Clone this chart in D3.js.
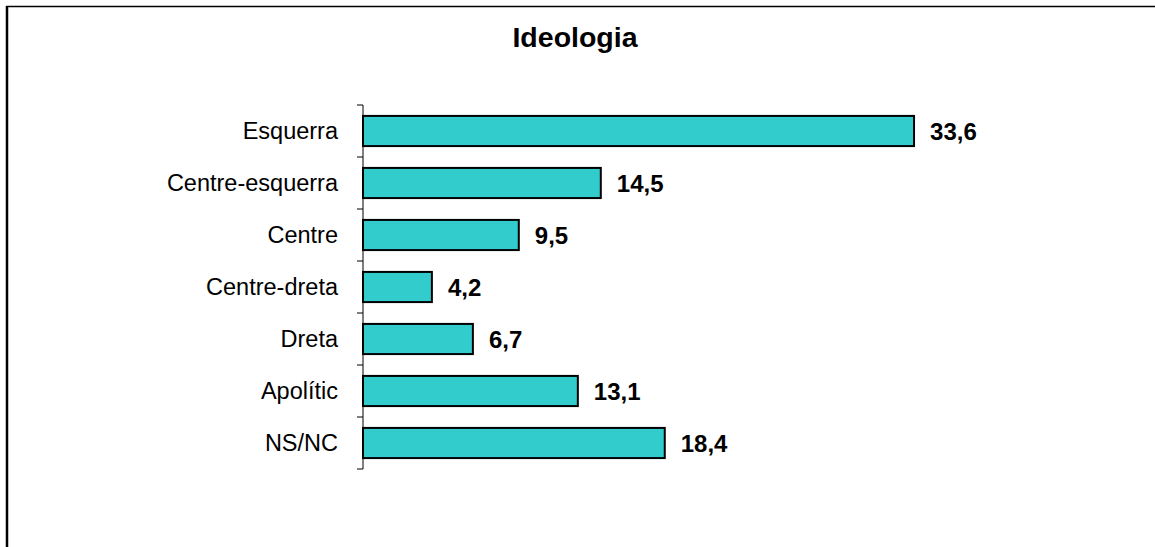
<!DOCTYPE html>
<html>
<head>
<meta charset="utf-8">
<script src="https://cdn.jsdelivr.net/npm/d3@7"></script>
<style>
  body { margin: 0; background: #fff; }
  svg { display: block; font-family: Arial, "Liberation Sans", sans-serif; }
</style>
</head>
<body>
<svg width="1155" height="547"></svg>
<script>
// dades
var categories = ["Esquerra", "Centre-esquerra", "Centre", "Centre-dreta", "Dreta", "Apolític", "NS/NC"];
var values = [33.6, 14.5, 9.5, 4.2, 6.7, 13.1, 18.4];
var title = "Ideologia";

var svg = d3.select("svg");

// marc exterior
svg.append("path")
  .attr("d", "M7,547 L7,6.5 L1155,6.5")
  .attr("fill", "none")
  .attr("stroke", "#000")
  .attr("stroke-width", 1.5);
svg.append("line").attr("x1", 7).attr("x2", 7).attr("y1", 6).attr("y2", 547)
  .attr("stroke", "#000").attr("stroke-width", 2.5);

// escales
var x = d3.scaleLinear().domain([0, 40]).range([363, 363 + 656]);
var y = d3.scaleBand().domain(categories).range([105, 469])
  .paddingInner(0.42).paddingOuter(0.21);

// títol
svg.append("text")
  .attr("x", 575)
  .attr("y", 47)
  .attr("text-anchor", "middle")
  .attr("font-size", 28.5)
  .attr("font-weight", "bold")
  .text(title);

// barres
svg.selectAll(".bar")
  .data(values)
  .enter()
  .append("rect")
  .attr("class", "bar")
  .attr("x", x(0))
  .attr("y", function(d, i) { return y(categories[i]); })
  .attr("width", function(d) { return x(d) - x(0); })
  .attr("height", y.bandwidth())
  .attr("fill", "#33CCCC")
  .attr("stroke", "#000")
  .attr("stroke-width", 2);

// eix vertical
var y0 = y.range()[0], y1 = y.range()[1];
svg.append("line")
  .attr("x1", x(0)).attr("x2", x(0))
  .attr("y1", y0).attr("y2", y1)
  .attr("stroke", "#000").attr("stroke-width", 1);
var ticks = d3.range(categories.length + 1).map(function(i) { return y0 + i * y.step(); });
svg.selectAll(".tick")
  .data(ticks)
  .enter()
  .append("line")
  .attr("class", "tick")
  .attr("x1", x(0) - 6).attr("x2", x(0))
  .attr("y1", function(d) { return d; }).attr("y2", function(d) { return d; })
  .attr("stroke", "#000").attr("stroke-width", 1);

// etiquetes de categoria
svg.selectAll(".cat")
  .data(categories)
  .enter()
  .append("text")
  .attr("class", "cat")
  .attr("x", x(0) - 25)
  .attr("y", function(d) { return y(d) + y.bandwidth() / 2; })
  .attr("dy", "0.36em")
  .attr("text-anchor", "end")
  .attr("font-size", 23.5)
  .text(function(d) { return d; });

// valors
svg.selectAll(".val")
  .data(values)
  .enter()
  .append("text")
  .attr("class", "val")
  .attr("x", function(d) { return x(d) + 16; })
  .attr("y", function(d, i) { return y(categories[i]) + y.bandwidth() / 2; })
  .attr("dy", "0.36em")
  .attr("font-size", 24)
  .attr("font-weight", "bold")
  .text(function(d) { return d.toFixed(1).replace(".", ","); });
</script>
</body>
</html>
